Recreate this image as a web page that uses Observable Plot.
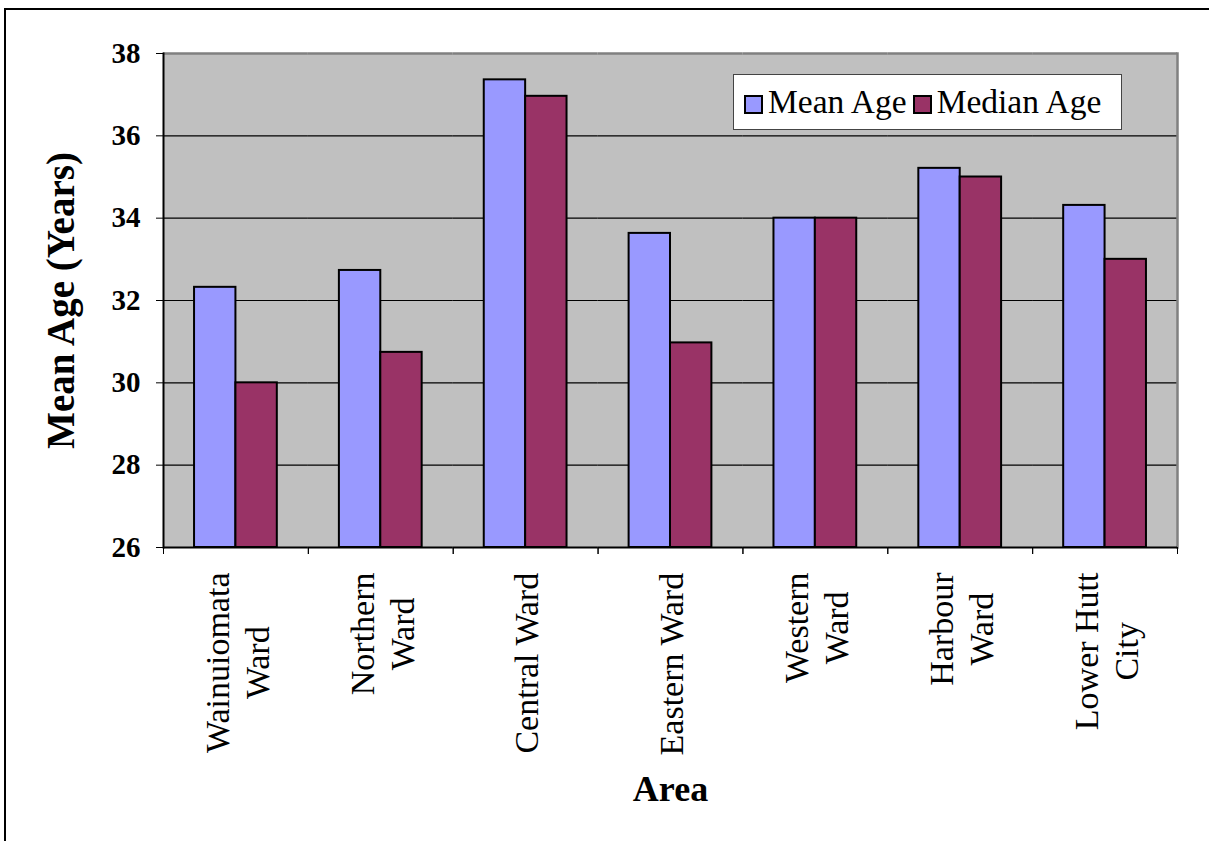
<!DOCTYPE html>
<html>
<head>
<meta charset="utf-8">
<script src="https://cdn.jsdelivr.net/npm/d3@7"></script>
<script src="https://cdn.jsdelivr.net/npm/@observablehq/plot@0.6"></script>
<style>
  html, body { margin: 0; padding: 0; background: #fff; }
  body { width: 1209px; height: 841px; position: relative; overflow: hidden; font-family: "Liberation Serif", serif; }
  #frameLines { position: absolute; left: 4px; top: 8px; width: 1400px; height: 1000px; border-top: 2px solid #000; border-left: 2px solid #000; }
  #chart { position: absolute; left: 0; top: 0; }
  #legend { position: absolute; left: 733px; top: 74px; width: 389px; height: 56px; box-sizing: border-box;
            background: #fff; border: 1.5px solid #444; display: flex; align-items: center; padding-left: 10px; }
  .item { display: flex; align-items: center; margin-right: 6px; }
  .sw { width: 19px; height: 19px; box-sizing: border-box; border: 2px solid #000; margin-right: 5px; margin-top: 4px; }
  .lab { font-size: 33.5px; line-height: 1; color: #000; white-space: nowrap; }
</style>
</head>
<body>
<div id="frameLines"></div>
<div id="chart"></div>
<div id="legend"></div>
<script>
// ---- data ----
const categories = ["Wainuiomata\nWard", "Northern\nWard", "Central Ward", "Eastern Ward", "Western\nWard", "Harbour\nWard", "Lower Hutt\nCity"];
const meanAge   = [32.32, 32.73, 37.36, 33.63, 34.00, 35.21, 34.31];
const medianAge = [30.00, 30.74, 36.96, 30.97, 34.00, 35.00, 33.00];
const seriesNames = ["Mean Age", "Median Age"];
const seriesColors = ["#9999ff", "#993366"];
const yTicks = [26, 28, 30, 32, 34, 36, 38];
const yDomain = [26, 38];
const yTitle = "Mean Age (Years)";
const xTitle = "Area";

// ---- layout ----
const W = 1209, H = 841;
const mL = 163, mR = 32, mT = 53, mB = 294;
const step = (W - mL - mR) / categories.length;
const serif = "Liberation Serif";
const catFont = 34;

const table = categories.flatMap((c, i) => [
  {area: c, series: seriesNames[0], value: meanAge[i]},
  {area: c, series: seriesNames[1], value: medianAge[i]}
]);

const ctx = document.createElement("canvas").getContext("2d");
ctx.font = `${catFont}px "${serif}"`;
const longest = s => Math.max(...s.split("\n").map(l => ctx.measureText(l).width));

const labelMarks = categories.map(c => Plot.text([c], {
  fx: d => d, text: d => d, frameAnchor: "bottom", rotate: -90,
  textAnchor: "middle", lineAnchor: "middle", lineHeight: 1.18,
  dy: 25 + longest(c) / 2, fontSize: catFont, fontFamily: serif, fill: "#000"
}));

const chart = Plot.plot({
  width: W, height: H,
  marginLeft: mL, marginRight: mR, marginTop: mT, marginBottom: mB,
  style: {background: "transparent", overflow: "visible", fontFamily: serif, color: "#000"},
  fx: {domain: categories, padding: 0, round: false, axis: null},
  x: {domain: seriesNames, paddingInner: 0, paddingOuter: 0.75, round: false, axis: null},
  y: {domain: yDomain, axis: null},
  color: {domain: seriesNames, range: seriesColors},
  marks: [
    Plot.frame({fill: "#c0c0c0", facet: "super"}),
    Plot.ruleY(yTicks.slice(1, -1), {stroke: "#000", strokeWidth: 1.1}),
    Plot.ruleY([yDomain[1]], {stroke: "#808080", strokeWidth: 2.5}),
    Plot.frame({anchor: "right", stroke: "#808080", strokeWidth: 2.5, facet: "super"}),
    Plot.barY(table, {fx: "area", x: "series", y1: () => yDomain[0], y2: "value", fill: "series", stroke: "#000", strokeWidth: 2}),
    Plot.ruleY([yDomain[0]], {stroke: "#000", strokeWidth: 2}),
    Plot.frame({anchor: "left", stroke: "#000", strokeWidth: 2, facet: "super"}),
    Plot.axisY(yTicks, {anchor: "left", tickSize: 7, tickPadding: 16, fontSize: 29, fontWeight: "bold", fontFamily: serif, label: null, stroke: "#000", fill: "#000"}),
    Plot.axisFx({anchor: "bottom", tickSize: 7, tickFormat: () => "", dx: -step / 2, label: null, stroke: "#000"}),
    Plot.axisFx({anchor: "bottom", tickSize: 7, tickFormat: () => "", dx: step / 2, label: null, stroke: "#000"}),
    ...labelMarks,
    Plot.text([yTitle], {facet: "super", frameAnchor: "left", textAnchor: "middle", text: d => d, rotate: -90, dx: -102, dy: 0, fontSize: 39, fontWeight: "bold", fontFamily: serif, fill: "#000"}),
    Plot.text([xTitle], {facet: "super", frameAnchor: "bottom", textAnchor: "middle", text: d => d, dy: 253, fontSize: 36, fontWeight: "bold", fontFamily: serif, fill: "#000"})
  ]
});
document.getElementById("chart").appendChild(chart);

// legend (HTML, over the plot)
const legend = d3.select("#legend");
seriesNames.forEach((s, i) => {
  const it = legend.append("div").attr("class", "item");
  it.append("div").attr("class", "sw").style("background", seriesColors[i]);
  it.append("div").attr("class", "lab").text(s);
});
</script>
</body>
</html>
